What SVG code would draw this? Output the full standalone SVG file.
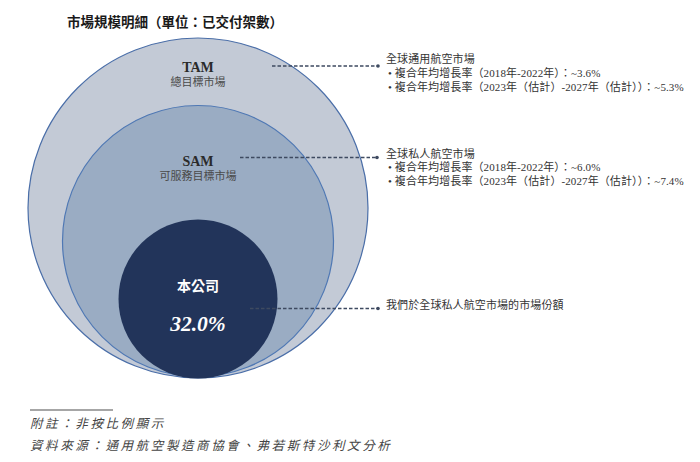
<svg xmlns="http://www.w3.org/2000/svg" width="700" height="462" viewBox="0 0 700 462">
<style>
.cjk{font-family:"Liberation Serif","Noto Sans CJK TC",serif;}
.title{font-family:"Liberation Sans","Noto Sans CJK TC",sans-serif;font-weight:bold;font-size:13.5px;fill:#1a1a1a;}
.head{font-family:"Liberation Serif","Noto Sans CJK TC",serif;font-weight:bold;font-size:14px;text-anchor:middle;}
.sub{font-family:"Liberation Serif","Noto Sans CJK TC",serif;font-size:11px;fill:#4a4a4a;text-anchor:middle;}
.note{font-family:"Liberation Serif","Noto Sans CJK TC",serif;font-size:11px;fill:#333;letter-spacing:0.1px;}
.foot{font-family:"Liberation Serif","Noto Sans CJK TC",serif;font-size:12.5px;font-style:italic;fill:#444;letter-spacing:2.6px;}
.dash{stroke:#3e4a60;stroke-width:1.3;stroke-dasharray:3.5 2;fill:none;}
.dot{fill:#3e4a60;}
</style>
<rect width="700" height="462" fill="#ffffff"/>
<text class="title" x="67" y="27">市場規模明細（單位：已交付架數）</text>
<g id="tam">
<circle cx="198" cy="208" r="170" fill="#c3cad6" stroke="#4a6ea8" stroke-width="1.2"/>
<text class="head" x="198" y="72" fill="#2a2a2a">TAM</text>
<text class="sub" x="198" y="85.5">總目標市場</text>
</g>
<g id="sam">
<circle cx="198" cy="241" r="135.5" fill="#9aacc3" stroke="#4f78b4" stroke-width="1.2"/>
<text class="head" x="198" y="166" fill="#2a2a2a">SAM</text>
<text class="sub" x="198" y="180">可服務目標市場</text>
</g>
<g id="company">
<circle cx="198" cy="299" r="79.5" fill="#22345a"/>
<text class="head" x="198" y="290.5" fill="#ffffff" style="font-family:'Liberation Sans','Noto Sans CJK TC',sans-serif">本公司</text>
<text x="198" y="331" fill="#ffffff" text-anchor="middle" style="font-family:'Liberation Serif',serif;font-style:italic;font-weight:bold;font-size:21.5px">32.0%</text>
</g>
<g id="connectors">
<line class="dash" x1="272" y1="66" x2="377" y2="66"/>
<circle class="dot" cx="378" cy="66" r="1.8"/>
<line class="dash" x1="240" y1="157.5" x2="376" y2="157.5"/>
<circle class="dot" cx="377" cy="157.5" r="1.8"/>
<line class="dash" x1="250" y1="308.5" x2="377" y2="308.5"/>
<circle class="dot" cx="378" cy="308.5" r="1.8"/>
</g>
<g id="tam-note">
<text class="note" x="386" y="63">全球通用航空市場</text>
<text class="note" x="388" y="77">• 複合年均增長率（2018年-2022年）：~3.6%</text>
<text class="note" x="388" y="91">• 複合年均增長率（2023年（估計）-2027年（估計））：~5.3%</text>
</g>
<g id="sam-note">
<text class="note" x="386" y="158">全球私人航空市場</text>
<text class="note" x="388" y="171">• 複合年均增長率（2018年-2022年）：~6.0%</text>
<text class="note" x="388" y="185">• 複合年均增長率（2023年（估計）-2027年（估計））：~7.4%</text>
</g>
<g id="company-note">
<text class="note" x="386" y="309">我們於全球私人航空市場的市場份額</text>
</g>
<line x1="30" y1="410" x2="113" y2="410" stroke="#888" stroke-width="1.5"/>
<text class="foot" x="30" y="428">附註：非按比例顯示</text>
<text class="foot" x="30" y="450">資料來源：通用航空製造商協會、弗若斯特沙利文分析</text>
</svg>
